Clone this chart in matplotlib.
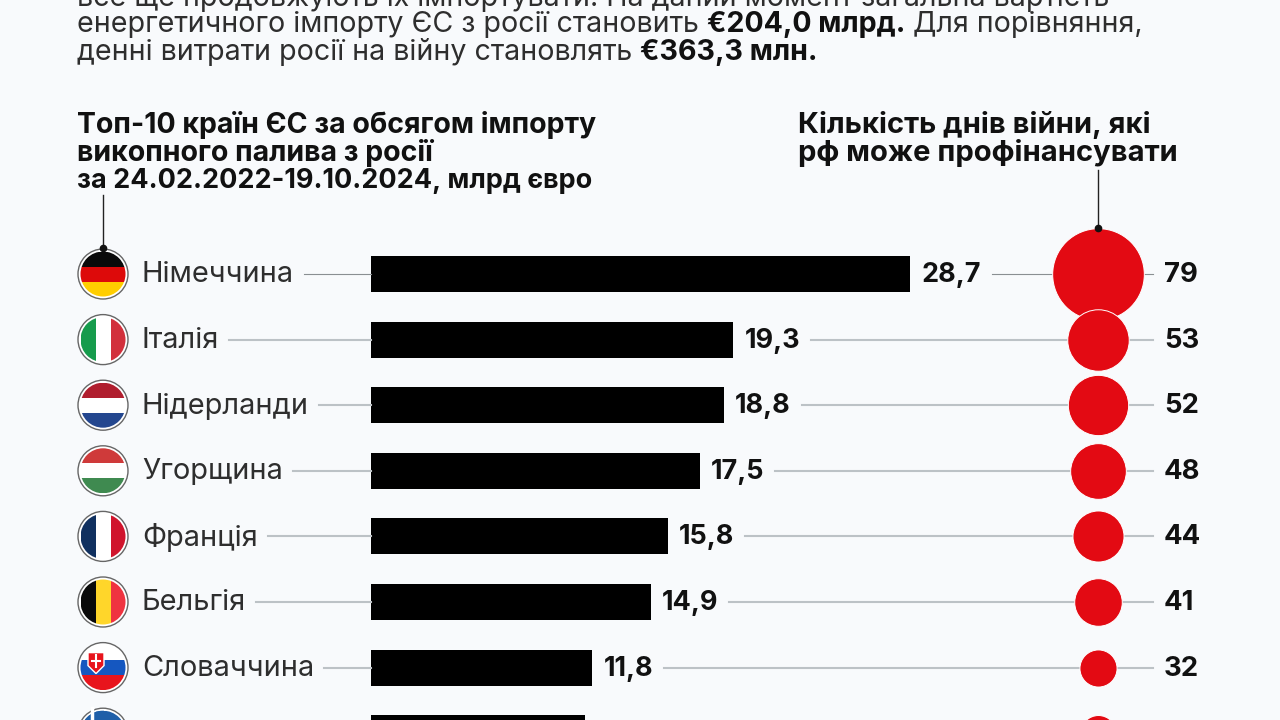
import matplotlib
matplotlib.use("Agg")
import matplotlib.pyplot as plt
from matplotlib.patches import Circle, Rectangle, Polygon

countries = ["Німеччина", "Італія", "Нідерланди", "Угорщина", "Франція", "Бельгія", "Словаччина", "Греція"]
import_bn = [28.7, 19.3, 18.8, 17.5, 15.8, 14.9, 11.8, 11.4]
war_days = [79, 53, 52, 48, 44, 41, 32, 31]
flags = [
    ("h", ["#0a0a0a", "#dd0a0a", "#ffce00"]),
    ("v", ["#169b4c", "#ffffff", "#d2303c"]),
    ("h", ["#b01e2e", "#ffffff", "#24478f"]),
    ("h", ["#cf3a3a", "#ffffff", "#3f8a50"]),
    ("v", ["#10305f", "#ffffff", "#d0142c"]),
    ("v", ["#0a0a0a", "#ffd62a", "#ef3340"]),
    ("h", ["#ffffff", "#1557c0", "#e8141c"]),
    ("h", ["#1f5fa8", "#ffffff", "#1f5fa8"]),
]
intro_lines = [
    [("все ще продовжують їх імпортувати. На даний момент загальна вартість", False)],
    [("енергетичного імпорту ЄС з росії становить ", False), ("€204,0 млрд.", True), (" Для порівняння,", False)],
    [("денні витрати росії на війну становлять ", False), ("€363,3 млн.", True)],
]
left_title = ["Топ-10 країн ЄС за обсягом імпорту", "викопного палива з росії", "за 24.02.2022-19.10.2024, млрд євро"]
left_title_px = [28.5, 28.5, 27.0]
right_title = ["Кількість днів війни, які", "рф може профінансувати"]

FONT = "Inter"
BG = "#f8fafc"
INK = "#111111"
BODY = "#2e2e2e"
GREY = "#bcc2c6"
RED = "#e30a13"
W, H = 1280, 720
X0, PXU = 370.5, 18.8
Y0, ROW = 274.0, 65.6
BUB_X = (1098.0 - X0) / PXU
pt = 0.72

fig = plt.figure(figsize=(12.8, 7.2), dpi=100, facecolor=BG)
ax = fig.add_axes([0, 0, 1, 1], facecolor="none")
ax.set_xlim(-X0 / PXU, (W - X0) / PXU)
ax.set_ylim((H - Y0) / ROW, -Y0 / ROW)
ax.axis("off")
ov = fig.add_axes([0, 0, 1, 1], facecolor="none")
ov.set_xlim(0, W)
ov.set_ylim(H, 0)
ov.axis("off")
ov.set_zorder(ax.get_zorder() + 1)
r = fig.canvas.get_renderer()

def run_text(x, y, runs, size, color=BODY, bold_color=INK):
    for s, b in runs:
        t = ov.text(x, y, s, fontsize=size * pt, family=FONT, fontweight="bold" if b else "normal",
                    color=bold_color if b else color, va="center", ha="left")
        x = t.get_window_extent(r).x1
    return x

for i, runs in enumerate(intro_lines):
    run_text(77, -2 + 27 * i, runs, 28.6)
for i, s in enumerate(left_title):
    ov.text(77, 125 + 28 * i, s, fontsize=left_title_px[i] * pt, family=FONT, fontweight="bold", color=INK, va="center")
for i, s in enumerate(right_title):
    ov.text(798, 125 + 28 * i, s, fontsize=29.2 * pt, family=FONT, fontweight="bold", color=INK, va="center")

ov.plot([103, 103], [195, 248], color="#222222", lw=1, zorder=6)
ov.plot([103], [248], "o", color="#111111", ms=4.5, zorder=7)
ov.plot([1098, 1098], [170, 228], color="#222222", lw=1, zorder=6)
ov.plot([1098], [228], "o", color="#111111", ms=4.5, zorder=7)

for i, (name, v, d) in enumerate(zip(countries, import_bn, war_days)):
    lw = 0.8 if i == 0 else 1.5
    lc = "#8a8f92" if i == 0 else GREY
    ax.barh(i, v, height=36 / ROW, color="#000000", zorder=3)
    n = ov.text(142, Y0 + ROW * i + 1, name, fontsize=29 * pt, family=FONT, fontweight="normal", color=BODY, va="center")
    nx = n.get_window_extent(r).x1
    ov.plot([nx + 10, X0], [Y0 + ROW * i] * 2, color=lc, lw=lw, zorder=1)
    vt = ax.text(v + 11 / PXU, i + 1 / ROW, f"{v:.1f}".replace(".", ","), fontsize=27 * pt, family=FONT,
                 fontweight="bold", color=INK, va="center", zorder=5)
    vx = vt.get_window_extent(r).x1
    ax.plot([(vx + 11 - X0) / PXU, (1153 - X0) / PXU], [i, i], color=lc, lw=lw, zorder=1)
    rad = 0.58 * d * pt
    ax.scatter([BUB_X], [i], s=(2 * rad) ** 2, color=RED, edgecolor="#ffffff", linewidth=0.7, zorder=4 + i * 0.01)
    ax.text((1164 - X0) / PXU, i + 1 / ROW, str(d), fontsize=27.5 * pt, family=FONT, fontweight="bold", color=INK,
            va="center", zorder=5)
    # round flag badge
    cy = Y0 + ROW * i
    clip = Circle((103, cy), 22.5, transform=ov.transData, fc="none", ec="none")
    ov.add_patch(clip)
    ov.add_patch(Circle((103, cy), 25, fc="#ffffff", ec="#666666", lw=1, zorder=2))
    orient, cols = flags[i]
    for k, c in enumerate(cols):
        if orient == "h":
            p = Rectangle((78, cy - 22.5 + 15 * k), 50, 15, fc=c, ec="none", zorder=3)
        else:
            p = Rectangle((80.5 + 15 * k, cy - 25), 15, 50, fc=c, ec="none", zorder=3)
        ov.add_patch(p)
        p.set_clip_path(clip)
    if name == "Словаччина":
        s = Polygon([(88, cy - 15), (104, cy - 15), (104, cy - 2), (96, cy + 6), (88, cy - 2)],
                    fc="#e8141c", ec="#ffffff", lw=1, zorder=4)
        ov.add_patch(s)
        ov.plot([96, 96], [cy - 13, cy - 1], color="#ffffff", lw=1.5, zorder=5)
        ov.plot([92, 100], [cy - 7, cy - 7], color="#ffffff", lw=1.5, zorder=5)
    if name == "Греція":
        a = Rectangle((80, cy - 25), 24, 20, fc="#1f5fa8", ec="none", zorder=4)
        ov.add_patch(a)
        a.set_clip_path(clip)
        ov.plot([92, 92], [cy - 25, cy - 5], color="#ffffff", lw=2.5, zorder=5)

fig.savefig("out.png", dpi=100, facecolor=BG)
